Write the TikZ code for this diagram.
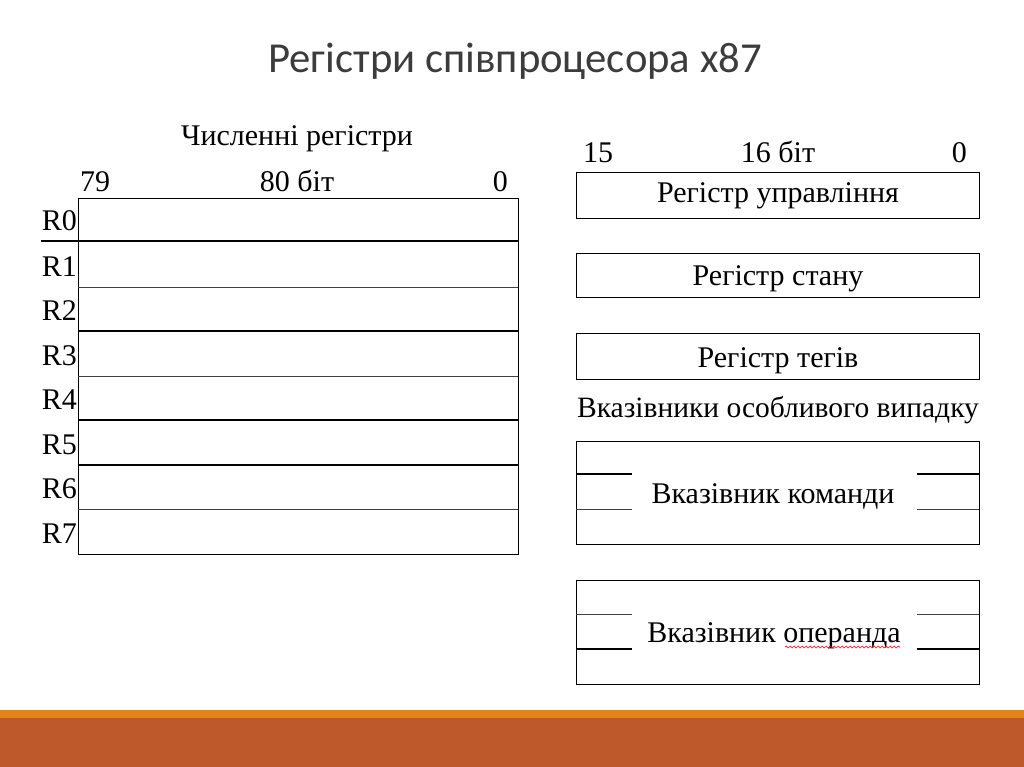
\documentclass[tikz,border=0pt]{standalone}
\usepackage{fontspec}
\setmainfont{Liberation Serif}
\newfontfamily\titlefont{Carlito}
\usetikzlibrary{decorations.pathmorphing}
\definecolor{titlegray}{HTML}{3C3C3C}
\definecolor{barorange}{HTML}{E2841A}
\definecolor{barrust}{HTML}{BE592C}
\begin{document}
\begin{tikzpicture}[x=1pt,y=-1pt,
  lbl/.style={inner sep=0pt, anchor=base, font=\fontsize{30}{34}\selectfont},
  heavy/.style={line width=1.3pt, black},
  light/.style={line width=0.8pt, black!75},
  regbox/.style={draw, line width=1.2pt, inner sep=0pt, anchor=north west}]
\useasboundingbox (0,0) rectangle (1024,767);
\fill[white] (0,0) rectangle (1024,767);
\fill[barorange] (0,710) rectangle (1024,718);
\fill[barrust] (0,718) rectangle (1024,767);
\node[inner sep=0pt, anchor=base, text=titlegray, font=\titlefont\fontsize{42.7}{50}\selectfont] (title) at (515,73) {Регістри співпроцесора x87};

% ---- numeric registers ----
\node[lbl] (numtitle) at (297,146) {Численні регістри};
\node[lbl, anchor=base west] (b79) at (80,192) {79};
\node[lbl] (b80) at (297,192) {80 біт};
\node[lbl, anchor=base east] (b0) at (508,192) {0};
\node[regbox, minimum width=440pt, minimum height=356pt] (stack) at (78,198) {};
\draw[heavy] (41,241) -- (518,241);
\draw[light] (78,287) -- (518,287);
\draw[heavy] (78,331) -- (518,331);
\draw[light] (78,376) -- (518,376);
\draw[heavy] (78,420) -- (518,420);
\draw[heavy] (78,465) -- (518,465);
\draw[light] (78,509) -- (518,509);
\node[lbl, anchor=base east] (r0) at (77,230) {R0};
\node[lbl, anchor=base east] (r1) at (77,276) {R1};
\node[lbl, anchor=base east] (r2) at (77,320) {R2};
\node[lbl, anchor=base east] (r3) at (77,365) {R3};
\node[lbl, anchor=base east] (r4) at (77,409) {R4};
\node[lbl, anchor=base east] (r5) at (77,454) {R5};
\node[lbl, anchor=base east] (r6) at (77,498) {R6};
\node[lbl, anchor=base east] (r7) at (77,543) {R7};

% ---- 16-bit registers ----
\node[lbl, anchor=base west] (b15) at (583,163) {15};
\node[lbl] (b16) at (778,163) {16 біт};
\node[lbl, anchor=base east] (b0r) at (967,163) {0};
\node[regbox, minimum width=403pt, minimum height=46pt] (ctrl) at (576,172) {};
\node[lbl] (ctrltxt) at (778,203) {Регістр управління};
\node[regbox, minimum width=403pt, minimum height=44pt] (stat) at (576,253) {};
\node[lbl] (stattxt) at (778,285) {Регістр стану};
\node[regbox, minimum width=403pt, minimum height=46pt] (tags) at (576,333) {};
\node[lbl] (tagstxt) at (778,367) {Регістр тегів};
\node[lbl, font=\fontsize{29.5}{34}\selectfont] (ptrtitle) at (778,417) {Вказівники особливого випадку};

\node[regbox, minimum width=403pt, minimum height=103pt] (instr) at (576,441) {};
\draw[heavy] (576,474) -- (632,474);
\draw[heavy] (917,474) -- (979,474);
\draw[light] (576,509) -- (632,509);
\draw[light] (917,509) -- (979,509);
\node[lbl] (instrtxt) at (773,503) {Вказівник команди};

\node[regbox, minimum width=403pt, minimum height=104pt] (oper) at (576,580) {};
\draw[light] (576,614) -- (632,614);
\draw[light] (917,614) -- (979,614);
\draw[heavy] (576,649) -- (632,649);
\draw[heavy] (917,649) -- (979,649);
\node[lbl] (opertxt) at (774,642) {Вказівник операнда};
\coordinate (sqa) at (785,647);
\coordinate (sqb) at (900,647);
\draw[red, line width=0.6pt, decorate, decoration={snake, amplitude=1pt, segment length=4pt}] (sqa) -- (sqb);
\end{tikzpicture}
\end{document}
